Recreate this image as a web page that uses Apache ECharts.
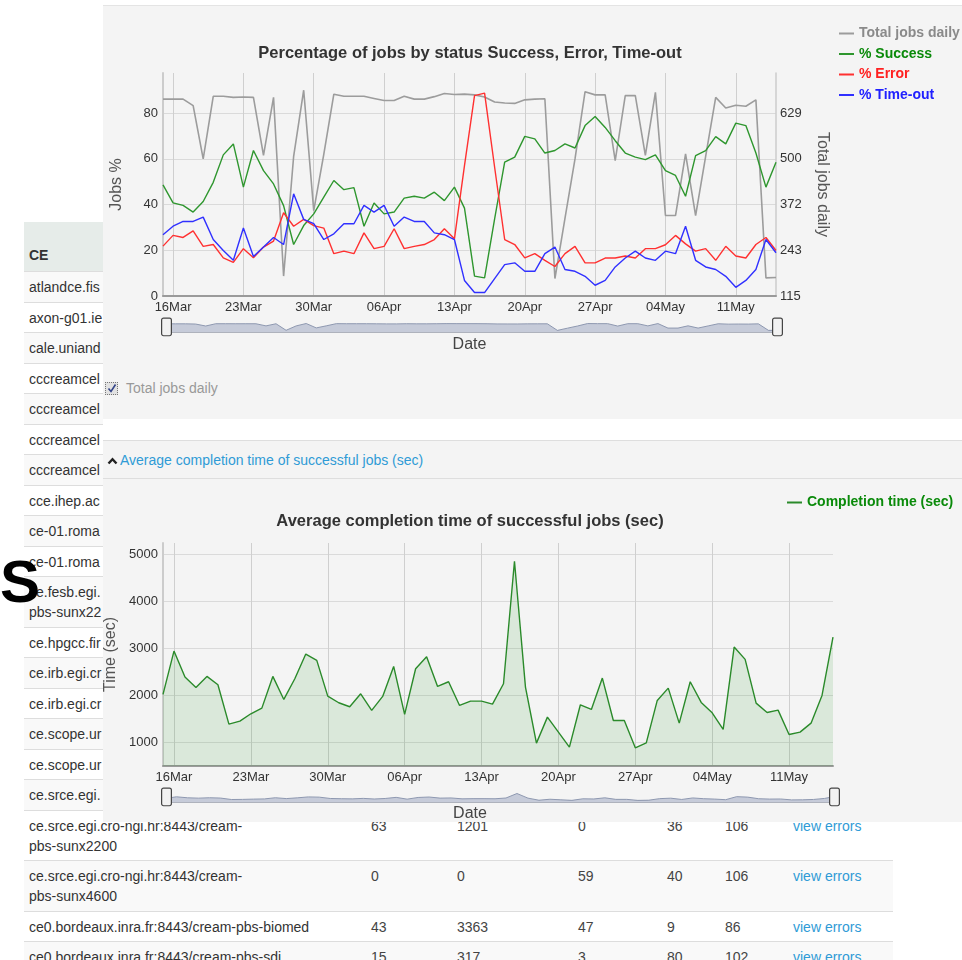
<!DOCTYPE html>
<html><head><meta charset="utf-8">
<script src="https://cdn.jsdelivr.net/npm/echarts@6/dist/echarts.min.js"></script>
<style>
html,body{margin:0;padding:0;background:#fff;}
body{width:962px;height:960px;position:relative;overflow:hidden;font-family:"Liberation Sans",Arial,Helvetica,sans-serif;}
#tbl{position:absolute;left:24px;top:222px;border-collapse:collapse;width:869px;table-layout:fixed;font-size:14px;color:#333;}
#tbl th{background:#e6ece9;text-align:left;padding:23px 5px 6px;line-height:20px;font-weight:bold;color:#333;}
#tbl td{padding:5px 5px 4.5px;line-height:20px;border-top:1px solid #ddd;vertical-align:top;white-space:nowrap;overflow:hidden;color:#444;}
#tbl tr.g td{background:#f9f9f9;}
#tbl td.ce{color:#333;}
#tbl td.lk{color:#2f9bd6;}
#bigS{position:absolute;left:0px;top:552px;font-size:60px;line-height:60px;font-weight:bold;color:#000;}
.panel{position:absolute;left:103px;width:859px;background:#f4f4f4;}
#p1{top:5px;height:413px;border-top:1px solid #e4e4e4;border-bottom:1px solid #dedede;}
#strip{position:absolute;left:103px;width:859px;top:419px;height:21px;background:#fff;border-bottom:1px solid #dedede;}
#p2{top:441px;height:37px;border-bottom:1px solid #dedede;}
#p3{top:479px;height:343px;}
#cb{position:absolute;left:105px;top:382px;width:11px;height:11px;border:1px dotted #777;background:#e2e2e2;}
#cb svg{position:absolute;left:1px;top:0px;}
#cbt{position:absolute;left:126px;top:379px;font-size:14px;line-height:18px;color:#999;}
#hdr{position:absolute;left:107px;top:451px;font-size:14px;line-height:18px;color:#2f9bd6;}
#hdr svg{vertical-align:0px;margin-right:2px;}
#chart{position:absolute;left:0;top:0;width:962px;height:960px;}
</style></head>
<body>
<table id="tbl">
<colgroup><col style="width:342px"><col style="width:86px"><col style="width:121px"><col style="width:89px"><col style="width:58px"><col style="width:68px"><col style="width:105px"></colgroup>
<tr><th>CE</th><th></th><th></th><th></th><th></th><th></th><th></th></tr>
<tr class="g"><td class="ce">atlandce.fis</td><td></td><td></td><td></td><td></td><td></td><td></td></tr>
<tr><td class="ce">axon-g01.ie</td><td></td><td></td><td></td><td></td><td></td><td></td></tr>
<tr class="g"><td class="ce">cale.uniand</td><td></td><td></td><td></td><td></td><td></td><td></td></tr>
<tr><td class="ce">cccreamcel</td><td></td><td></td><td></td><td></td><td></td><td></td></tr>
<tr class="g"><td class="ce">cccreamcel</td><td></td><td></td><td></td><td></td><td></td><td></td></tr>
<tr><td class="ce">cccreamcel</td><td></td><td></td><td></td><td></td><td></td><td></td></tr>
<tr class="g"><td class="ce">cccreamcel</td><td></td><td></td><td></td><td></td><td></td><td></td></tr>
<tr><td class="ce">cce.ihep.ac</td><td></td><td></td><td></td><td></td><td></td><td></td></tr>
<tr class="g"><td class="ce">ce-01.roma</td><td></td><td></td><td></td><td></td><td></td><td></td></tr>
<tr><td class="ce">ce-01.roma</td><td></td><td></td><td></td><td></td><td></td><td></td></tr>
<tr class="g"><td class="ce">ce.fesb.egi.<br>pbs-sunx22</td><td></td><td></td><td></td><td></td><td></td><td></td></tr>
<tr><td class="ce">ce.hpgcc.fir</td><td></td><td></td><td></td><td></td><td></td><td></td></tr>
<tr class="g"><td class="ce">ce.irb.egi.cr</td><td></td><td></td><td></td><td></td><td></td><td></td></tr>
<tr><td class="ce">ce.irb.egi.cr</td><td></td><td></td><td></td><td></td><td></td><td></td></tr>
<tr class="g"><td class="ce">ce.scope.ur</td><td></td><td></td><td></td><td></td><td></td><td></td></tr>
<tr><td class="ce">ce.scope.ur</td><td></td><td></td><td></td><td></td><td></td><td></td></tr>
<tr class="g"><td class="ce">ce.srce.egi.</td><td></td><td></td><td></td><td></td><td></td><td></td></tr>
<tr><td class="ce">ce.srce.egi.cro-ngi.hr:8443/cream-<br>pbs-sunx2200</td><td>63</td><td>1201</td><td>0</td><td>36</td><td>106</td><td class="lk">view errors</td></tr>
<tr class="g"><td class="ce">ce.srce.egi.cro-ngi.hr:8443/cream-<br>pbs-sunx4600</td><td>0</td><td>0</td><td>59</td><td>40</td><td>106</td><td class="lk">view errors</td></tr>
<tr><td class="ce">ce0.bordeaux.inra.fr:8443/cream-pbs-biomed</td><td>43</td><td>3363</td><td>47</td><td>9</td><td>86</td><td class="lk">view errors</td></tr>
<tr class="g"><td class="ce">ce0.bordeaux.inra.fr:8443/cream-pbs-sdi</td><td>15</td><td>317</td><td>3</td><td>80</td><td>102</td><td class="lk">view errors</td></tr>
</table>
<div id="bigS">S</div>
<div class="panel" id="p1"></div>
<div id="strip"></div>
<div class="panel" id="p2"></div>
<div class="panel" id="p3"></div>
<div id="cb"><svg width="10" height="11" viewBox="0 0 10 11"><path d="M1.5 5.5 L4 8.5 L8.5 1.5" fill="none" stroke="#334488" stroke-width="1.6"/></svg></div>
<div id="cbt">Total jobs daily</div>
<div id="hdr"><svg width="11" height="8" viewBox="0 0 11 8"><path d="M1.5 6.5 L5.5 2.2 L9.5 6.5" fill="none" stroke="#222" stroke-width="2.4"/></svg>Average completion time of successful jobs (sec)</div>
<div id="chart"></div>
<script>
const dates = ['15Mar','16Mar','17Mar','18Mar','19Mar','20Mar','21Mar','22Mar','23Mar','24Mar','25Mar','26Mar','27Mar','28Mar','29Mar','30Mar','31Mar',
 '01Apr','02Apr','03Apr','04Apr','05Apr','06Apr','07Apr','08Apr','09Apr','10Apr','11Apr','12Apr','13Apr','14Apr','15Apr','16Apr','17Apr','18Apr','19Apr','20Apr','21Apr','22Apr','23Apr','24Apr','25Apr','26Apr','27Apr','28Apr','29Apr','30Apr',
 '01May','02May','03May','04May','05May','06May','07May','08May','09May','10May','11May','12May','13May','14May','15May'];

const totalJobsDaily = [668,668,668,650,500,676,676,673,674,673,510,673,171,507,693,355,513,682,676,676,676,670,664,664,676,668,668,675,684,681,682,680,674,660,657,656,666,668,669,164,333,500,689,680,680,495,678,678,510,687,341,341,514,341,507,673,643,651,648,666,166,167];

const successPct = [48.6,40.7,39.6,36.7,41.3,49.7,61.7,66.5,47.6,63.6,54.8,49.0,39.5,22.5,30.8,35.9,43.2,50.5,46.5,47.4,30.5,40.7,35.9,36.7,42.8,43.6,42.8,45.4,41.7,47.6,38.4,8.7,7.9,33.7,58.5,60.7,69.8,68.7,62.5,63.6,66.5,64.7,74.5,78.5,73.7,67.9,62.5,60.7,59.6,61.7,54.8,52.7,43.6,61.4,63.6,69.7,66.5,75.6,74.5,62.5,47.6,58.5];

const errorPct = [21.8,26.5,25.6,28.5,21.7,22.5,16.7,14.7,20.7,16.7,21.4,24.0,36.4,30.5,33.5,30.8,29.7,18.5,19.6,18.5,27.6,20.7,21.7,29.4,20.7,21.7,22.5,24.7,29.4,25.0,57.0,87.6,88.7,56.3,24.7,22.5,16.7,18.5,15.6,12.9,18.5,21.7,14.5,14.5,16.6,16.6,17.5,16.6,20.7,20.7,22.4,26.5,22.8,19.6,20.7,15.6,21.7,17.5,16.6,22.5,25.6,19.9];

const timeoutPct = [26.8,30.5,32.6,32.6,34.5,24.7,19.9,15.6,29.7,17.3,21.4,25.6,22.5,44.7,33.5,31.6,24.7,27.2,31.6,31.6,39.6,36.7,39.6,30.5,34.5,32.6,32.6,27.6,26.8,24.7,6.8,1.5,1.5,7.6,13.7,14.5,10.8,10.8,18.5,21.4,11.6,10.8,8.6,4.7,6.8,12.7,16.6,19.6,16.6,15.6,19.6,18.5,30.5,15.6,12.7,11.6,8.6,3.8,6.8,11.6,24.7,18.9];

const completionTime = [2021,2943,2390,2170,2404,2227,1390,1454,1610,1730,2404,1915,2355,2879,2745,1986,1844,1759,2035,1681,1979,2617,1596,2567,2823,2191,2291,1787,1879,1879,1816,2248,4851,2177,986,1539,1220,901,1801,1702,2369,1468,1468,887,993,1894,2156,1411,2291,1851,1631,1277,3028,2766,1837,1638,1688,1170,1220,1411,2000,3241];

const rightAxisTicks = [115, 243.5, 372, 500.5, 629];

const FONT = '"Liberation Sans", Arial, sans-serif';
const C_GRAY = '#9c9c9c', C_GREEN = '#2e962e', C_RED = '#ff3030', C_BLUE = '#3030ff', C_AREA = '#2a8a2a';
const weekly = (i) => (i - 1) % 7 === 0;

function xAxisCfg(grid, withName) {
  return {
    type: 'category', gridIndex: grid, data: dates, boundaryGap: false,
    name: withName ? 'Date' : '', nameLocation: 'middle', nameGap: 41,
    nameTextStyle: {fontSize: 16, color: '#444', fontFamily: FONT},
    axisLine: {show: true, lineStyle: {color: '#9a9a9a', width: 2}},
    axisTick: {show: false},
    axisLabel: {interval: weekly, margin: 5, fontSize: 13, color: '#333', fontFamily: FONT},
    splitLine: {show: true, interval: weekly, lineStyle: {color: '#cfcfcf', width: 1}}
  };
}
function slider(xi, left, width, top) {
  return {
    type: 'slider', xAxisIndex: xi, left: left, width: width, top: top, height: 11,
    start: 0, end: 100, showDetail: false, brushSelect: false, moveHandleSize: 0,
    moveHandleStyle: {opacity: 0}, zoomLock: false, realtime: true,
    backgroundColor: 'rgba(0,0,0,0)', borderColor: 'rgba(0,0,0,0)', fillerColor: 'rgba(0,0,0,0)',
    handleIcon: 'path://M2,0h6a2,2,0,0,1,2,2v14a2,2,0,0,1,-2,2h-6a2,2,0,0,1,-2,-2v-14a2,2,0,0,1,2,-2z',
    handleSize: '160%',
    handleStyle: {color: '#f2f2f2', borderColor: '#444', borderWidth: 1.2},
    dataBackground: {lineStyle: {color: '#8e98b0', width: 1, opacity: 1}, areaStyle: {color: '#c6cbd9', opacity: 1}},
    selectedDataBackground: {lineStyle: {color: '#8e98b0', width: 1, opacity: 1}, areaStyle: {color: '#c6cbd9', opacity: 1}},
    textStyle: {color: 'rgba(0,0,0,0)'}
  };
}

const chart = echarts.init(document.getElementById('chart'), null, {renderer: 'canvas'});
chart.setOption({
  backgroundColor: 'rgba(0,0,0,0)',
  animation: false,
  textStyle: {fontFamily: FONT},
  title: [
    {text: 'Percentage of jobs by status Success, Error, Time-out', left: 470, top: 45, textAlign: 'center', padding: 0,
     textStyle: {fontSize: 16.5, fontWeight: 'bold', color: '#333', fontFamily: FONT}},
    {text: 'Average completion time of successful jobs (sec)', left: 470, top: 513, textAlign: 'center', padding: 0,
     textStyle: {fontSize: 16.5, fontWeight: 'bold', color: '#333', fontFamily: FONT}}
  ],
  legend: [
    {orient: 'vertical', left: 839, top: 26, padding: 0, itemWidth: 15, itemHeight: 2, itemGap: 5.5, icon: 'rect',
     selectedMode: false, textStyle: {fontSize: 14, fontWeight: 'bold', fontFamily: FONT, lineHeight: 15},
     data: [
       {name: 'Total jobs daily', textStyle: {color: '#8a8a8a'}, itemStyle: {color: C_GRAY}},
       {name: '% Success', textStyle: {color: '#0a8a0a'}, itemStyle: {color: C_GREEN}},
       {name: '% Error', textStyle: {color: '#ff2020'}, itemStyle: {color: C_RED}},
       {name: '% Time-out', textStyle: {color: '#2020ff'}, itemStyle: {color: C_BLUE}}
     ]},
    {orient: 'vertical', left: 787, top: 495, padding: 0, itemWidth: 15, itemHeight: 2, icon: 'rect', selectedMode: false,
     textStyle: {fontSize: 14, fontWeight: 'bold', fontFamily: FONT, lineHeight: 15},
     data: [{name: 'Completion time (sec)', textStyle: {color: '#0a8a0a'}, itemStyle: {color: C_AREA}}]}
  ],
  grid: [
    {left: 163, top: 73, width: 613, height: 223, outerBoundsMode: 'none', containLabel: false},
    {left: 163, top: 543, width: 670, height: 223, outerBoundsMode: 'none', containLabel: false}
  ],
  xAxis: [xAxisCfg(0, true), xAxisCfg(1, false)],
  yAxis: [
    {type: 'value', gridIndex: 0, min: 0, max: 97.5, interval: 20,
     name: 'Jobs %', nameLocation: 'middle', nameGap: 38, nameTextStyle: {fontSize: 16, color: '#555', fontFamily: FONT},
     axisLine: {show: true, lineStyle: {color: '#cccccc', width: 2}}, axisTick: {show: false},
     axisLabel: {formatter: v => (v % 20 === 0 ? String(v) : ''), fontSize: 13, color: '#333', margin: 5, showMaxLabel: false},
     splitLine: {show: true, showMaxLine: false, lineStyle: {color: '#dadada'}}},
    {type: 'value', gridIndex: 0, position: 'right', min: 115, max: 115 + 97.5 / 20 * 128.5,
     name: 'Total jobs daily', nameLocation: 'middle', nameRotate: -90, nameGap: 38,
     nameTextStyle: {fontSize: 16, color: '#555', fontFamily: FONT},
     axisLine: {show: true, lineStyle: {color: '#cccccc', width: 1.5}}, axisTick: {show: false},
     axisLabel: {customValues: rightAxisTicks, formatter: v => String(Math.floor(v)), fontSize: 13, color: '#333', margin: 4},
     splitLine: {show: false}},
    {type: 'value', gridIndex: 1, min: 500, max: 5240, interval: 500,
     name: 'Time (sec)', nameLocation: 'middle', nameGap: 38, nameTextStyle: {fontSize: 16, color: '#555', fontFamily: FONT},
     axisLine: {show: true, lineStyle: {color: '#cccccc', width: 2}}, axisTick: {show: false},
     axisLabel: {formatter: v => (v % 1000 === 0 ? String(v) : ''), fontSize: 13, color: '#333', margin: 5, showMaxLabel: false},
     splitLine: {show: true, lineStyle: {color: ['rgba(0,0,0,0)', '#dadada']}}}
  ],
  dataZoom: [slider(0, 163, 613, 321), slider(1, 163, 670, 791)],
  series: [
    {name: 'Total jobs daily', type: 'line', xAxisIndex: 0, yAxisIndex: 1, data: totalJobsDaily, color: C_GRAY,
     showSymbol: false, symbol: 'none', lineStyle: {color: C_GRAY, width: 1.6}},
    {name: '% Success', type: 'line', xAxisIndex: 0, yAxisIndex: 0, data: successPct, color: C_GREEN,
     showSymbol: false, symbol: 'none', lineStyle: {color: C_GREEN, width: 1.4}},
    {name: '% Error', type: 'line', xAxisIndex: 0, yAxisIndex: 0, data: errorPct, color: C_RED,
     showSymbol: false, symbol: 'none', lineStyle: {color: C_RED, width: 1.4}},
    {name: '% Time-out', type: 'line', xAxisIndex: 0, yAxisIndex: 0, data: timeoutPct, color: C_BLUE,
     showSymbol: false, symbol: 'none', lineStyle: {color: C_BLUE, width: 1.4}},
    {name: 'Completion time (sec)', type: 'line', xAxisIndex: 1, yAxisIndex: 2, data: completionTime, color: C_AREA,
     showSymbol: false, symbol: 'none', lineStyle: {color: C_AREA, width: 1.4},
     areaStyle: {color: 'rgba(0,128,0,0.15)', origin: 'start'}}
  ],
  graphic: [
    {type: 'rect', shape: {x: 163, y: 330.5, width: 613, height: 2}, style: {fill: '#5a6070'}, z: 0},
    {type: 'rect', shape: {x: 163, y: 800.5, width: 670, height: 2}, style: {fill: '#5a6070'}, z: 0},
    {type: 'text', x: 470, y: 814, style: {text: 'Date', fill: '#444', font: '16px ' + FONT, textAlign: 'center', textVerticalAlign: 'middle', verticalAlign: 'middle'}}
  ]
});
</script>
</body></html>
